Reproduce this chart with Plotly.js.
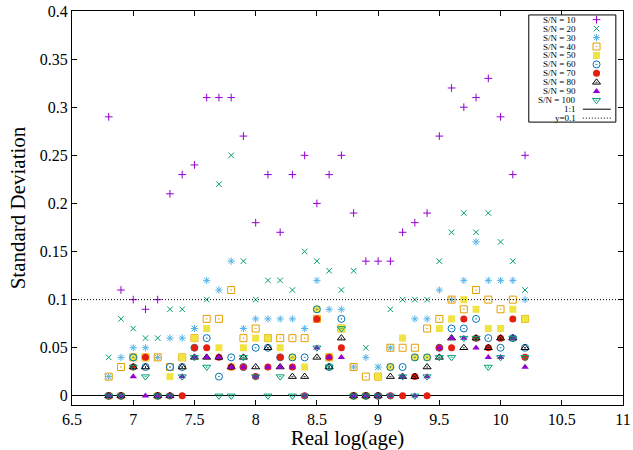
<!DOCTYPE html>
<html><head><meta charset="utf-8">
<script src="https://cdn.plot.ly/plotly-3.0.1.min.js"></script>
<style>html,body{margin:0;padding:0;background:#fff}#chart{width:633px;height:450px}</style>
</head><body><div id="chart"></div>
<script>
// ---- data ----
const logAge = [6.8,6.9,7.0,7.1,7.2,7.3,7.4,7.5,7.6,7.7,7.8,7.9,8.0,8.1,8.2,8.3,8.4,8.5,8.6,8.7,8.8,8.9,9.0,9.1,9.2,9.3,9.4,9.5,9.6,9.7,9.8,9.9,10.0,10.1,10.2];
const sn10  = [.29,.11,.10,.09,.10,.21,.23,.24,.31,.31,.31,.27,.18,.23,.17,.23,.25,.20,.23,.25,.19,.14,.14,.14,.17,.18,.19,.27,.32,.30,.31,.33,.29,.23,.25];
const sn20  = [.04,.08,.07,.06,.06,.09,.09,.07,.10,.22,.25,.14,.10,.12,.12,.11,.15,.14,.13,.11,.13,.05,.03,.09,.10,.10,.10,.14,.17,.19,.17,.19,.16,.14,.11];
const sn30  = [.02,.04,.05,.05,.04,.06,.06,.07,.12,.11,.14,.07,.08,.08,.08,.08,.07,.12,.09,.09,.03,.04,.03,.05,.06,.08,.08,.11,.10,.12,.16,.12,.12,.12,.10];
const sn40  = [.02,.03,.04,.04,.04,.03,.04,.06,.08,.08,.11,.06,.07,.06,.06,.06,.06,.08,.04,.07,.03,.02,.02,.05,.05,.05,.07,.08,.10,.09,.11,.10,.09,.10,.08];
const sn50  = [0,0,.04,.04,0,.02,.04,.06,.07,.05,.03,.05,.06,.06,.05,.04,.03,.09,.04,.07,0,0,.02,.03,.06,.04,.04,.07,.08,.10,.09,.07,.07,.09,.08];
const sn60  = [0,0,.04,.03,0,.03,.03,.05,.06,.02,.04,.03,.05,.05,.04,.04,.04,.09,.03,.08,0,0,0,.03,.03,.04,.04,.05,.07,.07,.08,.06,.05,.06,.05];
const sn70  = [0,0,.03,.04,0,0,0,.05,.05,.04,.03,.03,.02,.03,.04,.03,0,.08,.04,.05,0,0,0,0,0,.02,0,.05,.05,.08,.06,.05,.06,.08,.04];
const sn80  = [0,0,.03,.03,0,0,.03,.04,.04,.04,.03,.04,.03,.05,.03,.02,.02,.04,.03,.06,0,0,0,.02,.02,.02,.03,.04,.06,.05,.06,.05,.06,.06,.05];
const sn90  = [0,0,.02,0,0,0,.02,.04,.04,.04,.03,.03,.02,.03,.03,.03,0,.05,.04,.04,0,0,0,0,.02,0,.02,.05,.06,.06,.05,.04,.04,.06,.03];
const sn100 = [0,0,.03,.02,0,0,.02,.04,.03,0,0,.04,.02,0,.02,0,0,.05,.03,.07,0,0,0,0,.02,0,.02,.04,.04,.06,.06,.03,.04,.06,.04];
const seriesNames = ['S/N = 10','S/N = 20','S/N = 30','S/N = 40','S/N = 50','S/N = 60','S/N = 70','S/N = 80','S/N = 90','S/N = 100'];
const refLevel = 0.1;
const xTitle = 'Real log(age)';
const yTitle = 'Standard Deviation';

// ---- styles ----
const series = [sn10,sn20,sn30,sn40,sn50,sn60,sn70,sn80,sn90,sn100];
const colors = ['#9400d3','#009e73','#56b4e9','#e69f00','#f0e442','#0072b2','#e51e10','#000000','#9400d3','#009e73'];
const symbols = ['cross-thin-open','x-thin-open','asterisk-open','square-open-dot','square','circle-open-dot','circle','triangle-up-open-dot','triangle-up','triangle-down-open-dot'];
const sizes = [5.5,5.5,6,7,7,7,7,7,6.5,7];
const filled = [false,false,false,false,true,false,true,false,true,false];
const fineDot = '1px,2px';

const traces = [];
series.forEach((vals,i)=>{
  traces.push({
    type:'scatter', mode:'markers', name:seriesNames[i], x:logAge, y:vals,
    xaxis:'x', yaxis:'y', cliponaxis:false, hoverinfo:'x+y+name',
    marker:{symbol:symbols[i], size:sizes[i], color:colors[i],
      line:{color:colors[i], width: filled[i]?0:1}}
  });
});

// ---- custom legend (gnuplot style: text right-aligned, sample on the right) ----
const legTop = 4.7, legStep = 8.94, legMarkX = 67.7, legTextX = 49;
const annotations = [];
const legFont = {family:'Liberation Serif, serif', size:9, color:'#000'};
seriesNames.forEach((nm,i)=>{
  const ry = legTop + i*legStep;
  traces.push({type:'scatter', mode:'markers', x:[legMarkX], y:[ry], xaxis:'x2', yaxis:'y2',
    hoverinfo:'skip', showlegend:false,
    marker:{symbol:symbols[i], size:sizes[i], color:colors[i], line:{color:colors[i], width: filled[i]?0:1}}});
  annotations.push({xref:'x2', yref:'y2', x:legTextX, y:ry, text:nm, showarrow:false, xanchor:'right', yanchor:'middle',
    font:legFont});
});
const extraNames = ['1:1','y=0.1'];
const extraDash = ['solid',fineDot];
extraNames.forEach((nm,k)=>{
  const ry = legTop + (10+k)*legStep;
  traces.push({type:'scatter', mode:'lines', x:[54,82], y:[ry,ry], xaxis:'x2', yaxis:'y2', hoverinfo:'skip',
    line:{color:'#000', width:1, dash:extraDash[k]}});
  annotations.push({xref:'x2', yref:'y2', x:legTextX, y:ry, text:nm, showarrow:false, xanchor:'right', yanchor:'middle',
    font:legFont});
});

const tickFont = {family:'Liberation Serif, serif', size:16, color:'#000'};
const titleFont = {family:'Liberation Serif, serif', size:21, color:'#000'};

const layout = {
  width:633, height:450,
  margin:{l:72, r:10, t:11, b:45},
  paper_bgcolor:'#fff', plot_bgcolor:'#fff',
  showlegend:false,
  font:{family:'Liberation Serif, serif', color:'#000'},
  xaxis:{range:[6.5,11], dtick:0.5, tick0:6.5, showgrid:false, zeroline:false,
    showline:true, linecolor:'#000', linewidth:1, mirror:'ticks', ticks:'inside', ticklen:5, tickcolor:'#000',
    tickfont:tickFont, title:{text:xTitle, font:titleFont, standoff:8}},
  yaxis:{range:[-0.0095,0.4], dtick:0.05, tick0:0, showgrid:false, zeroline:true, zerolinecolor:'#000', zerolinewidth:1,
    showline:true, linecolor:'#000', linewidth:1, mirror:'ticks', ticks:'inside', ticklen:5, tickcolor:'#000',
    tickfont:tickFont, title:{text:yTitle, font:titleFont, standoff:8}},
  xaxis2:{domain:[0.829,0.987], anchor:'y2', range:[0,87], visible:false, fixedrange:true},
  yaxis2:{domain:[0.718,0.990], anchor:'x2', range:[107,0], visible:false, fixedrange:true},
  shapes:[
    {type:'line', xref:'paper', x0:0, x1:1, yref:'y', y0:refLevel, y1:refLevel, line:{color:'#000', width:1, dash:fineDot}},
    {type:'rect', xref:'paper', yref:'paper', x0:0.829, x1:0.987, y0:0.718, y1:0.990, line:{color:'#000', width:1}, fillcolor:'rgba(0,0,0,0)'}
  ],
  annotations:annotations
};

Plotly.newPlot('chart', traces, layout, {displayModeBar:false, staticPlot:true});
</script>
</body></html>
